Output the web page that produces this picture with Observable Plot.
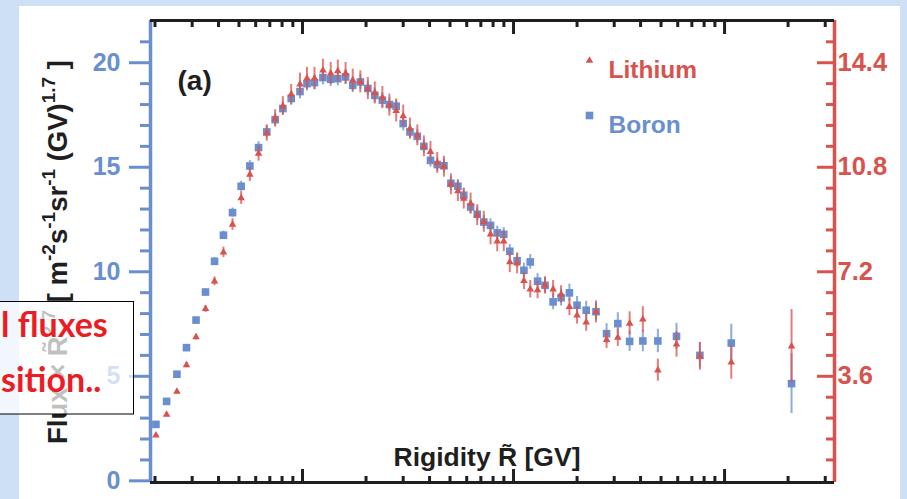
<!DOCTYPE html>
<html>
<head>
<meta charset="utf-8">
<script src="https://cdn.jsdelivr.net/npm/d3@7"></script>
<script src="https://cdn.jsdelivr.net/npm/@observablehq/plot@0.6"></script>
<style>
  html, body { margin: 0; padding: 0; }
  body { width: 907px; height: 499px; overflow: hidden; position: relative; background: #cde0f6; }
  #panel { position: absolute; left: 19px; top: 6px; width: 881px; height: 493px; background: #ffffff; }
  #chart { position: absolute; left: 0; top: 0; }
  #note { position: absolute; left: 0; top: 0; pointer-events: none; }
</style>
</head>
<body>
<div id="panel"></div>
<div id="chart"></div>
<svg id="note" width="907" height="499">
  <rect x="-2" y="301.5" width="135.5" height="112.5" fill="#ffffff" fill-opacity="0.72" stroke="#000" stroke-width="1"></rect>
  <text x="1" y="337" text-anchor="start" font-family="Lato, 'Open Sans', sans-serif" font-weight="700" font-size="34" fill="#ec1c24">l fluxes</text>
  <text x="1" y="392" text-anchor="start" font-family="Lato, 'Open Sans', sans-serif" font-weight="700" font-size="34" fill="#ec1c24">sition..</text>
</svg>
<script>
// Mean rigidity of each bin [GV]
const rigidity = [2.02, 2.27, 2.54, 2.82, 3.13, 3.47, 3.83, 4.22, 4.66, 5.12,
  5.63, 6.19, 6.77, 7.42, 8.07, 8.84, 9.73, 10.5, 11.4, 12.5,
  13.6, 14.7, 16.0, 17.3, 18.8, 20.4, 22.0, 23.9, 25.8, 27.8,
  30.0, 32.3, 35.0, 37.6, 40.4, 43.5, 46.8, 50.5, 54.5, 58.1,
  62.6, 67.3, 72.3, 77.8, 83.7, 89.9, 96.0, 104, 112, 120,
  130, 141, 154, 168, 184, 200, 221, 246, 276, 312,
  355, 410, 483, 592, 764, 1076, 2077];

// Boron flux x R^2.7 (left axis units)
const boron = [2.70, 3.80, 5.10, 6.37, 7.69, 9.03, 10.50, 11.75, 12.83, 14.09,
  15.06, 15.94, 16.69, 17.28, 17.81, 18.29, 18.62, 19.00, 19.05, 19.29,
  19.21, 19.24, 19.32, 18.92, 19.08, 18.77, 18.44, 18.21, 18.00, 17.92,
  17.09, 16.69, 16.48, 16.00, 15.33, 15.13, 15.07, 14.23, 14.09, 13.66,
  13.10, 12.75, 12.38, 12.22, 11.86, 11.79, 10.98, 10.53, 10.07, 10.47,
  9.55, 9.35, 8.56, 8.76, 8.99, 8.40, 8.16, 8.09, 7.04, 7.52,
  6.67, 6.69, 6.69, 6.91, 6.00, 6.59, 4.65];
const boronErr = [0.10, 0.10, 0.12, 0.12, 0.14, 0.16, 0.18, 0.20, 0.22, 0.24,
  0.26, 0.28, 0.30, 0.30, 0.32, 0.33, 0.35, 0.35, 0.35, 0.35,
  0.35, 0.35, 0.35, 0.35, 0.35, 0.35, 0.35, 0.35, 0.35, 0.35,
  0.35, 0.32, 0.32, 0.32, 0.32, 0.32, 0.32, 0.32, 0.32, 0.32,
  0.32, 0.32, 0.32, 0.32, 0.32, 0.32, 0.32, 0.32, 0.34, 0.35,
  0.36, 0.37, 0.38, 0.40, 0.42, 0.42, 0.43, 0.43, 0.48, 0.52,
  0.48, 0.52, 0.56, 0.62, 0.60, 0.90, 1.43];

// Lithium flux x R^2.7 (right axis units)
const lithium = [1.57, 2.28, 3.07, 3.99, 4.95, 5.92, 6.87, 7.87, 8.83, 9.74,
  10.55, 11.27, 11.98, 12.48, 12.91, 13.31, 13.66, 13.86, 13.86, 14.14,
  14.03, 14.11, 14.03, 13.80, 13.74, 13.51, 13.36, 13.20, 12.94, 12.74,
  12.56, 12.13, 11.90, 11.52, 11.33, 10.95, 10.82, 10.21, 9.98, 9.72,
  9.55, 9.15, 8.92, 8.49, 8.25, 8.25, 7.53, 7.49, 6.89, 6.60,
  6.57, 6.73, 6.60, 6.42, 5.99, 5.70, 5.46, 5.82, 4.86, 4.93,
  5.42, 5.56, 3.81, 4.70, 4.29, 4.08, 4.63];
const lithiumErr = [0.06, 0.07, 0.08, 0.09, 0.10, 0.12, 0.15, 0.18, 0.20, 0.22,
  0.24, 0.26, 0.28, 0.30, 0.32, 0.34, 0.38, 0.38, 0.38, 0.38,
  0.38, 0.38, 0.38, 0.38, 0.38, 0.38, 0.38, 0.38, 0.38, 0.38,
  0.38, 0.36, 0.36, 0.36, 0.36, 0.36, 0.36, 0.36, 0.36, 0.36,
  0.36, 0.36, 0.36, 0.36, 0.36, 0.36, 0.36, 0.36, 0.30, 0.30,
  0.30, 0.30, 0.30, 0.30, 0.30, 0.30, 0.31, 0.38, 0.30, 0.30,
  0.40, 0.44, 0.38, 0.44, 0.48, 0.58, 1.27];

// Axis ticks
const leftMajorTicks = [0, 5, 10, 15, 20];
const leftMinorTicks = [1, 2, 3, 4, 6, 7, 8, 9, 11, 12, 13, 14, 16, 17, 18, 19, 21];
const rightMajorTicks = [3.6, 7.2, 10.8, 14.4];
const rightMinorTicks = [0.72, 1.44, 2.16, 2.88, 4.32, 5.04, 5.76, 6.48, 7.92, 8.64, 9.36, 10.08,
  11.52, 12.24, 12.96, 13.68, 15.12];
const xMajorTicks = [10, 100, 1000];
const xMinorTicks = [2, 3, 4, 5, 6, 7, 8, 9, 20, 30, 40, 50, 60, 70, 80, 90,
  200, 300, 400, 500, 600, 700, 800, 900, 2000, 3000];

// Labels
const seriesNames = ["Lithium", "Boron"];
const panelTag = ["(a)"];
const xTitle = ["Rigidity R\u0303 [GV]"];
const yTitleParts = [["Flux \u00d7 R\u0303", false], ["2.7", true], [" [ m", false], ["-2", true],
  ["s", false], ["-1", true], ["sr", false], ["-1", true], [" (GV)", false], ["1.7", true], [" ]", false]];

const RATIO = 0.72; // right axis value per left axis unit
const BLUE = "#6a8fd0";
const RED = "#d8524e";
const INK = "#1f1f1f";
const xDomain = [1.904, 3319];
const yDomain = [-0.08, 22.02];

const boronRows = rigidity.map((R, i) => ({R, v: boron[i], e: boronErr[i]}));
const lithiumRows = rigidity.map((R, i) => ({R, v: lithium[i] / RATIO, e: lithiumErr[i] / RATIO}));

const font = "'Liberation Sans', Arial, Helvetica, sans-serif";

const chart = Plot.plot({
  width: 907,
  height: 499,
  marginLeft: 150,
  marginRight: 73,
  marginTop: 20,
  marginBottom: 17,
  style: {background: "transparent", fontFamily: font, overflow: "visible"},
  x: {type: "log", domain: xDomain, label: null},
  y: {domain: yDomain, label: null},
  marks: [
    // left (boron) axis
    Plot.axisY({anchor: "left", ticks: leftMinorTicks, tickSize: 10, fill: "none", stroke: BLUE, strokeWidth: 3, label: null}),
    Plot.axisY({anchor: "left", ticks: leftMajorTicks, tickSize: 21, tickPadding: 9, stroke: BLUE, fill: BLUE,
      strokeWidth: 3, fontSize: 25, fontWeight: "bold", tickFormat: d => String(d), label: null}),
    // right (lithium) axis, ticks point inward
    Plot.axisY({anchor: "right", ticks: rightMinorTicks.map(v => v / RATIO), tickSize: -9, fill: "none", stroke: RED, strokeWidth: 3, label: null}),
    Plot.axisY({anchor: "right", ticks: rightMajorTicks.map(v => v / RATIO), tickSize: -18, tickPadding: 21, stroke: RED, fill: RED,
      strokeWidth: 3, fontSize: 25.5, fontWeight: "bold", tickFormat: d => (d * RATIO).toFixed(1), label: null}),
    // rigidity ticks on bottom and top, pointing inward
    Plot.axisX({anchor: "bottom", ticks: xMinorTicks, tickSize: -6, fill: "none", stroke: INK, strokeWidth: 3, label: null}),
    Plot.axisX({anchor: "bottom", ticks: xMajorTicks, tickSize: -13, fill: "none", stroke: INK, strokeWidth: 3, label: null}),
    Plot.axisX({anchor: "top", ticks: xMinorTicks, tickSize: -6, fill: "none", stroke: INK, strokeWidth: 3, label: null}),
    Plot.axisX({anchor: "top", ticks: xMajorTicks, tickSize: -13, fill: "none", stroke: INK, strokeWidth: 3, label: null}),
    // frame
    Plot.ruleX([xDomain[0]], {stroke: BLUE, strokeWidth: 3.5}),
    Plot.ruleX([xDomain[1]], {stroke: RED, strokeWidth: 3.5}),
    Plot.ruleY([yDomain[0]], {stroke: INK, strokeWidth: 3}),
    Plot.ruleY([yDomain[1]], {stroke: INK, strokeWidth: 3}),
    // boron
    Plot.ruleX(boronRows, {x: "R", y1: d => d.v - d.e, y2: d => d.v + d.e, stroke: BLUE, strokeWidth: 2, strokeOpacity: 0.75}),
    Plot.dot(boronRows, {x: "R", y: "v", symbol: "square", r: 4.3, fill: BLUE}),
    // lithium
    Plot.ruleX(lithiumRows, {x: "R", y1: d => d.v - d.e, y2: d => d.v + d.e, stroke: RED, strokeWidth: 2, strokeOpacity: 0.75}),
    Plot.dot(lithiumRows, {x: "R", y: "v", symbol: "triangle", r: 2.8, fill: RED}),
    // legend
    Plot.dot([seriesNames[0]], {frameAnchor: "top-left", dx: 439, dy: 40, symbol: "triangle", r: 2.8, fill: RED}),
    Plot.text([seriesNames[0]], {frameAnchor: "top-left", dx: 458, dy: 40, text: d => d, textAnchor: "start",
      fill: RED, fontSize: 24.5, fontWeight: "bold"}),
    Plot.dot([seriesNames[1]], {frameAnchor: "top-left", dx: 439, dy: 95, symbol: "square", r: 4.3, fill: BLUE}),
    Plot.text([seriesNames[1]], {frameAnchor: "top-left", dx: 458, dy: 95, text: d => d, textAnchor: "start",
      fill: BLUE, fontSize: 24.5, fontWeight: "bold"}),
    // panel tag and rigidity title
    Plot.text(panelTag, {frameAnchor: "top-left", dx: 27, dy: 50, text: d => d, textAnchor: "start",
      fill: INK, fontSize: 28, fontWeight: "bold"}),
    Plot.text(xTitle, {frameAnchor: "top-left", dx: 243, dy: 427, text: d => d, textAnchor: "start",
      fill: INK, fontSize: 26.5, fontWeight: "bold"})
  ]
});

// rotated flux title with superscripts
const yTitle = d3.select(chart).append("text")
  .attr("transform", "translate(67,252) rotate(-90)")
  .attr("text-anchor", "middle")
  .attr("font-family", font)
  .attr("font-size", 27.5)
  .attr("font-weight", "bold")
  .attr("fill", INK);
let raised = false;
for (const [part, sup] of yTitleParts) {
  const t = yTitle.append("tspan").text(part);
  if (sup && !raised) { t.attr("dy", -12).attr("font-size", 19); raised = true; }
  else if (sup) { t.attr("font-size", 19); }
  else if (!sup && raised) { t.attr("dy", 12); raised = false; }
}

document.getElementById("chart").append(chart);
</script>
</body>
</html>
